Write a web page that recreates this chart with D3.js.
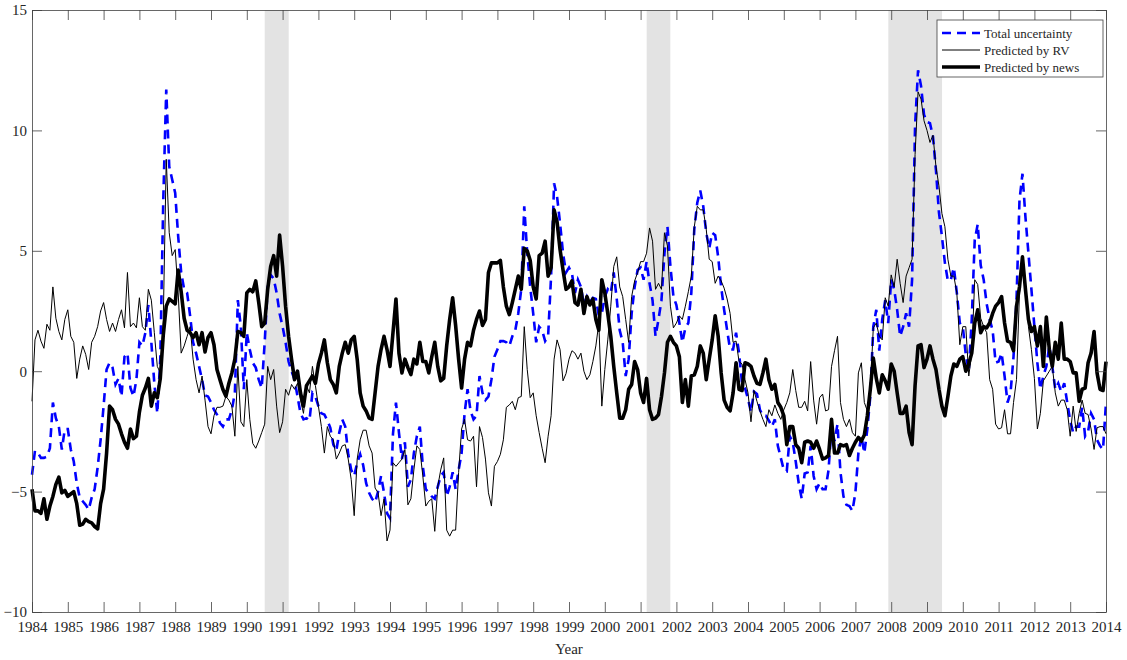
<!DOCTYPE html>
<html>
<head>
<meta charset="utf-8">
<script src="https://cdn.jsdelivr.net/npm/d3@7"></script>
<style>
  body { margin: 0; background: #fff; }
  svg text { font-family: "Liberation Serif", "Times New Roman", serif; fill: #262626; }
  .axis path, .axis line { stroke: #404040; stroke-width: 0.8; }
</style>
</head>
<body>
<svg id="chart" width="1127" height="660"></svg>
<script>
// monthly series, Jan 1984 .. Jan 2014
const startYear = 1984;
const yearTicks = d3.range(1984, 2015);
const yTicks = [-10, -5, 0, 5, 10, 15];
const recessions = [[1990.5, 1991.17], [2001.17, 2001.83], [2007.92, 2009.42]];
const seriesNames = ["Total uncertainty", "Predicted by RV", "Predicted by news"];

const totalUncertainty = [
  -4.3, -3.3, -3.4, -3.6, -3.6, -3.55, -3.2, -1.3, -1.95, -2.3, -3.25, -2.4,
  -2.4, -3.25, -3.75, -4.65, -5.25, -5.4, -5.55, -5.75, -5.25, -4.9, -4.0, -2.85,
  -1.45, 0.07, 0.35, 0.15, -0.55, -0.3, -1.05, 0.6, 0.75, -0.7, -1.05, -0.35,
  1.2, 1.05, 1.6, 2.75, 1.2, -0.5, -1.75, 0.5, 7.1, 11.7, 8.5, 7.95,
  7.4, 5.6, 4.1, 3.4, 3.25, 2.3, 1.2, 0.75, 0.2, -0.35, -1.0, -1.05,
  -1.3, -1.6, -1.8, -2.15, -2.3, -2.0, -2.0, -1.6, -0.9, 2.95, 1.85, -0.75,
  1.6, 0.9, 0.35, 0.15, -0.35, -0.7, 1.2, 3.5, 4.0, 3.85, 3.25, 2.4,
  1.85, 1.2, 0.4, 0.0, -0.35, -1.05, -1.75, -2.0, -1.95, -2.05, -0.9, -1.05,
  -1.45, -1.75, -1.8, -2.05, -2.35, -3.05, -3.3, -2.55, -2.0, -2.3, -3.45, -4.1,
  -4.35, -3.8, -3.45, -3.9, -4.65, -5.05, -5.3, -5.45, -5.0, -4.35, -5.05, -5.9,
  -6.1, -2.6, -1.3, -2.55, -3.65, -2.95, -4.8, -4.5, -3.4, -2.7, -2.3, -3.95,
  -4.9, -5.05, -5.2, -5.3, -4.8, -4.35, -4.2, -5.2, -4.8, -4.2, -4.9, -4.1,
  -3.4, -1.75, -0.75, -1.65, -2.0, -1.85, -0.2, -0.9, -1.2, -1.05, -0.35, 0.6,
  0.9, 1.25, 1.25, 1.2, 1.05, 1.45, 1.7, 2.4, 3.4, 6.85, 4.9, 3.5,
  2.4, 1.2, 1.85, 1.7, 1.25, 1.45, 3.95, 7.8, 7.25, 6.15, 4.9, 4.1,
  4.3, 4.05, 3.25, 3.8, 3.5, 2.75, 3.1, 2.85, 3.05, 3.0, 2.3, 2.4,
  3.1, 3.4, 3.25, 4.1, 3.0, 1.7, 1.2, -0.2, 0.5, 2.4, 3.5, 4.2,
  4.3, 3.8, 4.55, 3.65, 2.95, 1.45, 2.15, 2.95, 4.9, 6.0, 4.35, 3.1,
  2.75, 2.0, 1.2, 1.8, 2.0, 3.25, 5.9, 7.0, 7.5, 6.85, 5.75, 5.1,
  5.75, 5.65, 4.75, 3.5, 2.55, 1.7, 0.9, 0.9, 1.6, 0.75, -0.5, -0.7,
  -1.15, -1.7, -0.85, -0.95, -1.6, -1.85, -1.85, -2.05, -2.3, -2.0, -3.1, -3.6,
  -4.1, -4.15, -2.7, -2.95, -3.75, -4.65, -5.3, -4.25, -4.2, -3.1, -4.35, -4.9,
  -4.65, -4.9, -4.9, -4.1, -2.3, -2.9, -2.2, -4.2, -5.2, -5.55, -5.6, -5.8,
  -5.05, -3.4, -2.7, -3.4, -2.4, -1.05, 1.85, 2.55, 0.85, 2.15, 2.95, 2.0,
  3.8, 3.4, 2.55, 1.45, 1.85, 2.4, 1.85, 3.8, 10.2, 12.5, 11.85, 10.65,
  10.35, 10.3, 9.75, 8.35, 6.6, 5.6, 4.5, 3.75, 3.8, 4.3, 3.25, 2.0,
  1.85, 0.7, 0.0, 2.15, 5.45, 6.1, 4.4, 3.8, 2.8, 2.15, 1.7, 0.35,
  0.4, 0.75, -0.2, -1.3, -0.9, 0.6, 2.95, 7.1, 8.2, 6.4, 4.9, 3.4,
  1.85, 0.35, -0.75, -0.2, 0.2, 1.05, 0.2, -0.75, -0.5, -0.85, -0.5, -1.3,
  -2.05, -2.55, -2.3, -2.3, -1.5, -2.7, -2.5, -1.75, -2.0, -2.85, -3.1, -3.25,
  -1.3
];

const predictedRV = [
  -1.25, 1.3, 1.7, 1.25, 0.95, 1.95, 1.7, 3.5, 2.2, 1.65, 1.3, 2.15,
  2.55, 1.45, 1.2, -0.3, 0.5, 1.05, 0.7, 0.07, 1.2, 1.45, 1.85, 2.5,
  2.85, 2.15, 1.65, 2.0, 1.65, 2.15, 2.55, 1.8, 4.1, 1.85, 2.0, 1.8,
  3.05, 1.85, 1.7, 3.4, 2.95, 1.6, 0.2, -0.07, 2.15, 8.8, 5.75, 4.8,
  5.05, 3.25, 0.75, 1.05, 1.45, 1.85, 0.5, -0.35, -0.9, -0.2, -1.2, -2.3,
  -2.6, -1.85, -1.5, -1.5, -1.45, -1.05, -1.2, -1.45, -2.7, 0.2, -2.1, -2.3,
  -0.35, -2.0, -3.0, -3.2, -2.9, -2.55, -2.2, 0.2, -0.35, 0.07, -1.45, -2.55,
  -2.1, -0.75, -1.0, -0.55, -0.75, -0.5, -1.2, -1.75, -0.6, -0.9, 0.2, -0.6,
  -1.45, -2.3, -3.4, -2.3, -2.7, -2.85, -3.65, -3.4, -3.1, -3.05, -3.65, -4.5,
  -6.0, -3.65, -2.85, -2.45, -2.45, -3.1, -3.4, -4.85, -5.05, -6.0, -5.3, -7.05,
  -6.6, -3.8, -3.95, -3.8, -3.65, -3.25, -5.55, -5.3, -4.1, -3.1, -3.25, -4.35,
  -5.6, -5.4, -5.3, -6.65, -4.8, -4.1, -3.6, -6.6, -6.85, -6.6, -6.6, -4.2,
  -2.4, -2.0, -2.85, -2.9, -2.7, -4.8, -2.3, -2.75, -3.65, -5.05, -5.6, -3.95,
  -3.75, -3.45, -2.85, -1.5, -1.4, -1.25, -1.6, -1.1, -1.05, 1.85, 0.07, -1.1,
  -0.9, -1.85, -2.55, -3.2, -3.8, -2.7, -1.85, 0.5, 1.3, 0.9, -0.4, -0.1,
  0.5, 0.85, 0.75, 0.5, 0.75, 0.0, -0.35, -0.15, 0.4, 1.05, 2.0, -1.45,
  0.07, 1.3, 2.7, 4.35, 4.75, 3.5, 3.1, 2.15, 1.2, 3.1, 3.75, 4.1,
  4.55, 4.55, 4.9, 5.95, 5.4, 3.4, 3.65, 3.4, 5.75, 5.2, 2.7, 1.8,
  2.0, 2.3, 2.15, 2.7, 3.3, 3.95, 6.0, 6.85, 6.7, 6.7, 5.9, 4.65,
  4.55, 3.65, 3.95, 3.75, 3.45, 3.0, 2.4, 1.2, 1.25, 0.4, 0.3, -0.35,
  -0.9, -2.1, -0.8, -1.25, -1.65, -2.0, -2.3, -1.6, -1.85, -1.4, -1.75, -2.0,
  -1.6, -1.3, -0.9, 0.07, -0.8, -1.5, -1.5, -1.25, -1.65, 0.4, -1.2, -2.2,
  -1.1, -0.95, -1.65, -1.6, 0.2, 0.85, 1.45, -1.3, -2.0, -2.3, -2.0, -2.55,
  -2.7, -0.07, 0.35, -1.3, -1.65, -0.75, 1.8, 2.0, 1.45, 1.3, 3.05, 2.7,
  4.0, 3.5, 4.65, 3.65, 2.85, 3.95, 4.3, 4.65, 9.0, 11.6, 11.3, 10.4,
  10.0, 9.5, 9.8, 8.5, 7.7, 6.55, 6.0, 4.65, 3.95, 3.95, 3.25, 1.1,
  1.85, 1.85, -0.2, 0.75, 3.8, 3.6, 2.2, 1.85, 1.6, -0.35, -0.75, -2.2,
  -2.4, -2.35, -1.6, -2.6, -2.6, -1.3, -0.35, 3.25, 4.65, 3.25, 1.85, 0.9,
  -0.3, -2.4, -1.75, -0.4, -0.2, 0.0, 0.2, -0.9, -1.45, -1.2, -1.2, -1.6,
  -2.7, -1.45, -2.5, -1.75, -1.2, -1.75, -1.8, -2.4, -3.25, -2.35, -2.3, -2.3,
  -2.6
];

const predictedNews = [
  -4.9, -5.8, -5.8, -5.9, -5.3, -6.15, -5.6, -5.2, -4.7, -4.4, -5.05, -4.95,
  -5.2, -5.1, -5.0, -5.5, -6.4, -6.35, -6.15, -6.25, -6.3, -6.45, -6.55, -5.5,
  -4.9, -3.4, -1.45, -1.6, -2.0, -2.2, -2.6, -2.95, -3.2, -2.4, -2.8, -2.7,
  -1.7, -1.0, -0.7, -0.3, -1.45, -0.9, -1.1, -0.3, 1.5, 2.7, 3.0, 2.9,
  2.8, 4.2, 3.3, 2.2, 1.7, 1.6, 1.4, 1.6, 1.1, 1.6, 0.8, 1.4,
  1.6, 1.1, 0.07, -0.35, -0.76, -1.04, -0.5, -0.07, 0.5, 1.65, 1.6, 1.45,
  3.25, 3.4, 3.3, 3.75, 2.85, 1.85, 2.0, 3.4, 4.35, 4.8, 3.95, 5.65,
  4.35, 2.7, 1.45, 0.5, -0.35, 0.0, -0.9, -1.45, -0.6, -0.4, -0.2, -0.5,
  0.3, 0.75, 1.3, 0.35, -0.35, -0.55, -0.9, 0.2, 0.75, 1.2, 0.75, 1.3,
  1.45, 0.5, -0.9, -1.45, -1.65, -1.95, -2.0, -0.9, 0.2, 0.9, 1.45, 0.9,
  0.2, 1.6, 3.0, 0.75, -0.07, 0.5, 0.15, -0.14, 0.5, 0.3, 1.2, 0.4,
  0.4, -0.07, 0.6, 1.2, 0.2, -0.4, -0.3, 1.05, 2.15, 3.05, 1.9, 0.5,
  -0.7, 0.5, 1.2, 1.05, 1.7, 2.15, 2.5, 1.9, 2.15, 4.1, 4.5, 4.5,
  4.5, 4.6, 3.5, 2.7, 2.35, 2.85, 3.4, 3.95, 3.4, 5.1, 5.0, 4.6,
  3.5, 3.0, 4.8, 4.9, 5.4, 3.95, 4.3, 6.7, 6.2, 5.05, 4.2, 3.4,
  3.5, 3.75, 2.85, 2.75, 3.4, 2.4, 3.1, 2.75, 3.0, 2.15, 1.7, 3.8,
  3.25, 2.4, 1.45, 0.2, -0.9, -1.95, -1.95, -1.6, -0.75, -0.55, 0.4, 0.07,
  -0.9, -1.3, -0.3, -1.6, -2.0, -1.95, -1.8, -1.05, -0.07, 1.2, 1.45, 1.2,
  1.05, 0.6, -1.3, -0.35, -1.45, -0.2, -0.15, 0.2, 1.05, 0.75, -0.35, 0.5,
  1.3, 2.3, 1.45, -0.07, -1.2, -1.5, -1.65, -0.9, 0.35, -0.75, -0.8, 0.35,
  0.3, 0.2, -0.2, -0.5, -0.55, -0.07, 0.5, -0.35, -0.75, -0.55, -1.3, -1.5,
  -1.85, -3.05, -2.3, -2.3, -3.05, -3.2, -3.8, -2.95, -2.9, -2.95, -3.2, -2.9,
  -3.25, -3.65, -3.6, -3.5, -2.0, -3.4, -3.4, -3.05, -3.1, -3.05, -3.5, -3.2,
  -2.95, -2.75, -2.9, -2.65, -1.85, -0.75, 0.55, -0.3, -0.9, -0.15, -0.4, -0.75,
  0.3, 0.0, -0.9, -1.75, -1.75, -1.45, -2.55, -3.05, -0.6, 1.05, 1.1, 0.15,
  0.5, 1.05, 0.5, 0.07, -0.75, -1.45, -1.85, -1.05, -0.2, 0.3, 0.2, 0.5,
  0.6, 0.0, 0.3, 0.75, 2.0, 2.55, 1.6, 1.85, 1.8, 2.0, 2.4, 2.7,
  2.85, 3.1, 2.0, 1.25, 1.2, 0.85, 2.7, 3.5, 4.75, 3.4, 2.15, 1.65,
  1.85, 1.05, 1.85, 0.2, 2.25, 0.9, 0.2, 1.2, 0.5, 2.0, 0.5, 0.5,
  0.4, -0.07, -0.07, -1.25, -0.75, -0.7, 0.35, 0.75, 1.65, -0.07, -0.75, -0.8,
  0.4
];

const width = 1127, height = 660;
const margin = {left: 32, right: 21, top: 10, bottom: 48};

const svg = d3.select("#chart");
svg.append("rect").attr("width", width).attr("height", height).attr("fill", "#fff");

const x = d3.scaleLinear().domain([1984, 2014]).range([margin.left, width - margin.right]);
const y = d3.scaleLinear().domain([-10, 15]).range([height - margin.bottom, margin.top]);

// recession bands
svg.append("g").selectAll("rect")
  .data(recessions)
  .enter()
  .append("rect")
  .attr("x", d => x(d[0]))
  .attr("width", d => x(d[1]) - x(d[0]))
  .attr("y", y(15))
  .attr("height", y(-10) - y(15))
  .attr("fill", "#e3e3e3");

const monthTime = i => startYear + i / 12;
const line = d3.line().x((d, i) => x(monthTime(i))).y(d => y(d));

svg.append("path").datum(totalUncertainty)
  .attr("d", line).attr("fill", "none")
  .attr("stroke", "#0000ff").attr("stroke-width", 2.6)
  .attr("stroke-dasharray", "9,6");

svg.append("path").datum(predictedRV)
  .attr("d", line).attr("fill", "none")
  .attr("stroke", "#000").attr("stroke-width", 1)
  .attr("stroke-linejoin", "round");

svg.append("path").datum(predictedNews)
  .attr("d", line).attr("fill", "none")
  .attr("stroke", "#000").attr("stroke-width", 3.6)
  .attr("stroke-linejoin", "round");

// axes, ticks pointing inside
let xAxis = d3.axisBottom(x).tickValues(yearTicks).tickFormat(d3.format("d"))
  .tickSizeInner(-10).tickSizeOuter(0).tickPadding(9);
let yAxis = d3.axisLeft(y).tickValues(yTicks).tickSizeInner(-10).tickSizeOuter(0).tickPadding(5);
let xTop = d3.axisTop(x).tickValues(yearTicks).tickFormat("").tickSizeInner(-10).tickSizeOuter(0);
let yRight = d3.axisRight(y).tickValues(yTicks).tickFormat("").tickSizeInner(-10).tickSizeOuter(0);

svg.append("g").attr("class", "axis")
  .attr("transform", `translate(0,${y(-10)})`).call(xAxis)
  .selectAll("text").style("font-size", "15px");
svg.append("g").attr("class", "axis")
  .attr("transform", `translate(${x(1984)},0)`).call(yAxis)
  .selectAll("text").style("font-size", "15px");
svg.append("g").attr("class", "axis")
  .attr("transform", `translate(0,${y(15)})`).call(xTop);
svg.append("g").attr("class", "axis")
  .attr("transform", `translate(${x(2014)},0)`).call(yRight);

svg.append("text")
  .attr("x", (x(1984) + x(2014)) / 2)
  .attr("y", 654)
  .attr("text-anchor", "middle")
  .style("font-size", "15px")
  .text("Year");

// legend
const legend = svg.append("g").attr("transform", "translate(937,20)");
legend.append("rect").attr("width", 166).attr("height", 57)
  .attr("fill", "#fff").attr("stroke", "#404040").attr("stroke-width", 0.8);

const legendStyles = [
  {color: "#0000ff", w: 2.6, dash: "9,6"},
  {color: "#000", w: 1, dash: null},
  {color: "#000", w: 3.6, dash: null}
];
seriesNames.forEach((name, i) => {
  let row = legend.append("g").attr("transform", `translate(0,${13 + i * 17})`);
  row.append("line").attr("x1", 5).attr("x2", 43).attr("y1", 0).attr("y2", 0)
    .attr("stroke", legendStyles[i].color).attr("stroke-width", legendStyles[i].w)
    .attr("stroke-dasharray", legendStyles[i].dash);
  row.append("text").attr("x", 47).attr("dy", "0.35em")
    .style("font-size", "13px").text(name);
});
</script>
</body>
</html>
